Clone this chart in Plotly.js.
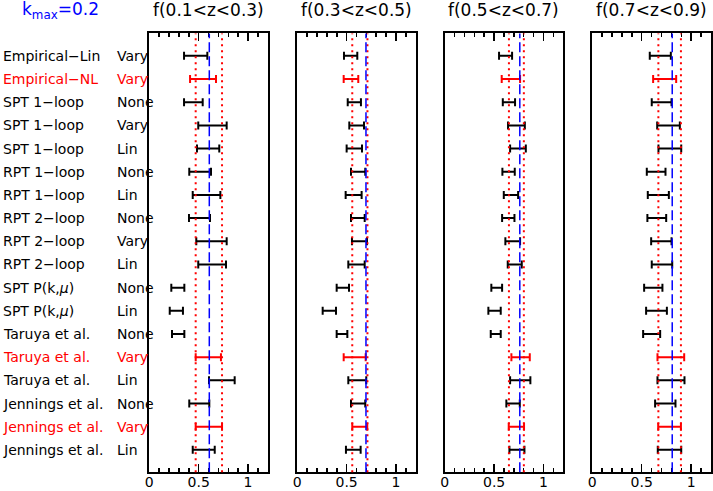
<!DOCTYPE html>
<html>
<head>
<meta charset="utf-8">
<script src="https://cdn.plot.ly/plotly-3.0.1.min.js"></script>
<style>
  html, body { margin: 0; padding: 0; background: #fff; }
  #chart { width: 713px; height: 491px; }
</style>
</head>
<body>
<div id="chart"></div>
<script>
// rows, top to bottom
const models = [
    'Empirical−Lin', 'Empirical−NL', 'SPT 1−loop', 'SPT 1−loop', 'SPT 1−loop',
    'RPT 1−loop', 'RPT 1−loop', 'RPT 2−loop', 'RPT 2−loop', 'RPT 2−loop',
    'SPT P(k,<i>μ</i>)', 'SPT P(k,<i>μ</i>)', 'Taruya et al.', 'Taruya et al.', 'Taruya et al.',
    'Jennings et al.', 'Jennings et al.', 'Jennings et al.'
];
const variants = [
    'Vary', 'Vary', 'None', 'Vary', 'Lin',
    'None', 'Lin', 'None', 'Vary', 'Lin',
    'None', 'Lin', 'None', 'Vary', 'Lin',
    'None', 'Vary', 'Lin'
];
const highlightRows = [2, 14, 17]; // 1-based rows shown in red

const panelTitles = ['f(0.1<z<0.3)', 'f(0.3<z<0.5)', 'f(0.5<z<0.7)', 'f(0.7<z<0.9)'];
const fiducialF = [0.608, 0.696, 0.760, 0.808];
const refLow = [0.470, 0.557, 0.650, 0.668];
const refHigh = [0.737, 0.711, 0.801, 0.896];

// 68% ranges of f for each model, per redshift bin
const lowZ1 = [0.352, 0.413, 0.352, 0.496, 0.483, 0.405, 0.440, 0.402, 0.476, 0.496, 0.223, 0.207, 0.230, 0.470, 0.605, 0.405, 0.470, 0.440];
const highZ1 = [0.588, 0.676, 0.541, 0.784, 0.709, 0.625, 0.720, 0.615, 0.784, 0.777, 0.355, 0.341, 0.355, 0.726, 0.865, 0.608, 0.737, 0.663];
const lowZ2 = [0.473, 0.470, 0.511, 0.527, 0.500, 0.544, 0.490, 0.544, 0.554, 0.517, 0.399, 0.257, 0.399, 0.470, 0.517, 0.544, 0.557, 0.493];
const highZ2 = [0.608, 0.618, 0.645, 0.676, 0.656, 0.689, 0.652, 0.683, 0.706, 0.683, 0.524, 0.392, 0.507, 0.693, 0.699, 0.689, 0.709, 0.642];
const lowZ3 = [0.550, 0.577, 0.588, 0.641, 0.662, 0.584, 0.598, 0.581, 0.614, 0.638, 0.472, 0.442, 0.466, 0.675, 0.662, 0.624, 0.648, 0.655];
const highZ3 = [0.682, 0.763, 0.712, 0.811, 0.821, 0.709, 0.743, 0.706, 0.763, 0.780, 0.581, 0.567, 0.567, 0.861, 0.867, 0.760, 0.803, 0.807];
const lowZ4 = [0.581, 0.615, 0.601, 0.656, 0.669, 0.551, 0.561, 0.557, 0.595, 0.601, 0.524, 0.544, 0.514, 0.659, 0.659, 0.635, 0.666, 0.662];
const highZ4 = [0.794, 0.848, 0.801, 0.885, 0.899, 0.740, 0.774, 0.747, 0.801, 0.808, 0.709, 0.754, 0.686, 0.929, 0.932, 0.841, 0.896, 0.899];

const FONT = 'DejaVu Sans, sans-serif';
const BLACK = '#000000';
const RED = '#ff0000';
const BLUE = '#0000ff';
const DOMAINS = [[0.2094, 0.3755], [0.417, 0.583], [0.6237, 0.790], [0.8307, 0.9972]];

const lows = [lowZ1, lowZ2, lowZ3, lowZ4];
const highs = [highZ1, highZ2, highZ3, highZ4];
const rows = models.map((_, i) => i + 1);
const rowColor = i => (highlightRows.includes(rows[i]) ? RED : BLACK);

const traces = [];
const shapes = [];
const annotations = [];
const layout = {
    width: 713,
    height: 491,
    margin: { l: 0, r: 0, t: 0, b: 0 },
    paper_bgcolor: '#fff',
    plot_bgcolor: '#fff',
    showlegend: false,
    font: { family: FONT, color: BLACK },
};

lows.forEach((lo, p) => {
    const hi = highs[p];
    const s = p === 0 ? '' : String(p + 1);

    [BLACK, RED].forEach(color => {
        const idx = rows.map((_, i) => i).filter(i => rowColor(i) === color);
        traces.push({
            type: 'scatter',
            mode: 'markers',
            x: idx.map(i => (lo[i] + hi[i]) / 2),
            y: idx.map(i => rows[i]),
            xaxis: 'x' + s,
            yaxis: 'y' + s,
            marker: { size: 1, color: 'rgba(0,0,0,0)' },
            error_x: {
                type: 'data',
                array: idx.map(i => (hi[i] - lo[i]) / 2),
                color: color,
                thickness: 2,
                width: 4,
            },
            hoverinfo: 'skip',
        });
    });

    layout['xaxis' + s] = {
        domain: DOMAINS[p],
        range: [0, 1.2],
        anchor: 'y' + s,
        showline: true,
        linecolor: BLACK,
        linewidth: 2,
        mirror: 'ticks',
        ticks: 'inside',
        ticklen: 8,
        tickwidth: 1.5,
        tickcolor: BLACK,
        tick0: 0,
        dtick: 0.5,
        minor: { dtick: 0.1, ticks: 'inside', ticklen: 4, tickwidth: 1.5, tickcolor: BLACK },
        showgrid: false,
        zeroline: false,
        ticklabelstandoff: -4,
        tickfont: { family: FONT, size: 14, color: BLACK },
        fixedrange: true,
    };
    layout['yaxis' + s] = {
        domain: [0.038, 0.932],
        range: [18.97, 0.03],
        anchor: 'x' + s,
        showline: true,
        linecolor: BLACK,
        linewidth: 2,
        mirror: true,
        ticks: '',
        showticklabels: false,
        showgrid: false,
        zeroline: false,
        fixedrange: true,
    };

    // reference range (red dotted) and fiducial growth rate (blue dashed)
    [refLow[p], refHigh[p]].forEach(v => {
        shapes.push({
            type: 'line', xref: 'x' + s, yref: 'y' + s + ' domain',
            x0: v, x1: v, y0: 0, y1: 1,
            line: { color: RED, width: 2, dash: '2px,4px' },
        });
    });
    shapes.push({
        type: 'line', xref: 'x' + s, yref: 'y' + s + ' domain',
        x0: fiducialF[p], x1: fiducialF[p], y0: 0, y1: 1,
        line: { color: BLUE, width: 1.5, dash: '10px,4px' },
    });

    annotations.push({
        text: panelTitles[p],
        xref: 'x' + s + ' domain', yref: 'paper',
        x: 0.5, y: 0.979, xanchor: 'center', yanchor: 'middle',
        showarrow: false,
        font: { family: FONT, size: 17, color: BLACK },
    });
});

annotations.push({
    text: 'k<sub>max</sub>=0.2',
    xref: 'paper', yref: 'paper',
    x: 20 / 713, y: 0.979, xanchor: 'left', yanchor: 'middle',
    showarrow: false,
    font: { family: FONT, size: 17, color: BLUE },
});

rows.forEach((r, i) => {
    const color = rowColor(i);
    annotations.push({
        text: models[i], xref: 'paper', yref: 'y',
        x: 1 / 713, y: r, xanchor: 'left', yanchor: 'middle',
        showarrow: false, font: { family: FONT, size: 14, color: color },
    });
    annotations.push({
        text: variants[i], xref: 'paper', yref: 'y',
        x: 115 / 713, y: r, xanchor: 'left', yanchor: 'middle',
        showarrow: false, font: { family: FONT, size: 14, color: color },
    });
});

layout.shapes = shapes;
layout.annotations = annotations;

Plotly.newPlot('chart', traces, layout, { displayModeBar: false, staticPlot: true });
</script>
</body>
</html>
